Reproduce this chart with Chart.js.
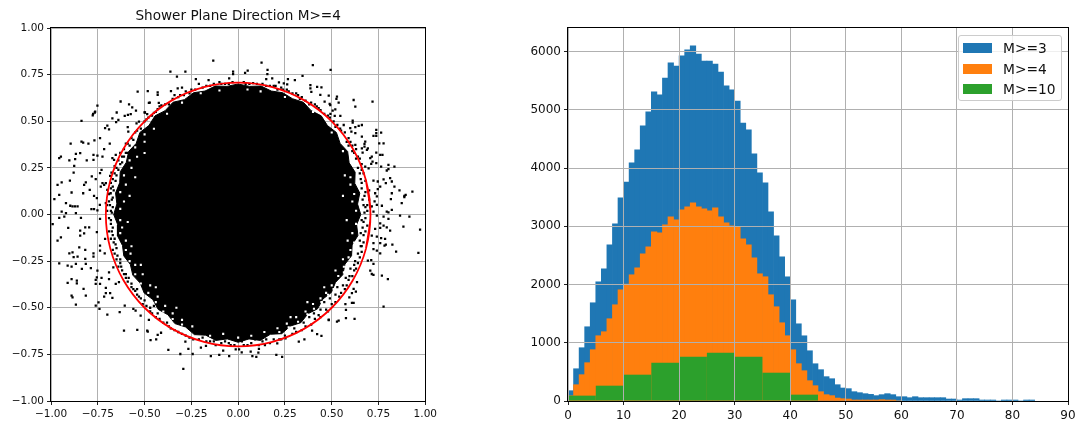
<!DOCTYPE html>
<html>
<head>
<meta charset="utf-8">
<script src="https://cdn.jsdelivr.net/npm/chart.js@4"></script>
<style>
  body { margin: 0; background: #fff; width: 1081px; height: 424px; overflow: hidden; position: relative; font-family: "DejaVu Sans", sans-serif; }
  canvas { position: absolute; top: 0; }
  #left { left: 0; }
  #right { left: 520px; }
  #legend { position: absolute; left: 958px; top: 35px; width: 102px; height: 64px; background: rgba(255,255,255,0.8); border: 1px solid #ccc; border-radius: 3px; }
  #legend i { position: absolute; left: 4px; width: 29px; height: 10px; }
  #legend span { position: absolute; left: 44px; font-size: 13.8px; line-height: 16px; color: #111; white-space: nowrap; }
</style>
</head>
<body>
<canvas id="left" width="440" height="424"></canvas>
<canvas id="right" width="561" height="424"></canvas>
<div id="legend"></div>
<script>
// left panel
const circleX = [.683,.707,.683,.612,.5,.354,.183,0,-.183,-.354,-.5,-.612,-.683,-.707,-.683,-.612,-.5,-.354,-.183,0,.183,.354,.5,.612,.683,.707,.683];
const circleY = [-.183,0,.183,.354,.5,.612,.683,.707,.683,.612,.5,.354,.183,0,-.183,-.354,-.5,-.612,-.683,-.707,-.683,-.612,-.5,-.354,-.183,0,.183];

// outline of the solid black core
const coreOutline = [
  [.655,0],[.638,.056],[.65,.115],[.623,.167],[.625,.227],[.593,.277],[.585,.338],[.545,.381],[.525,.44],[.477,.477],
  [.444,.529],[.39,.557],[.348,.602],[.29,.621],[.238,.653],[.177,.662],[.122,.689],[.06,.687],[0,.70],[-.06,.687],
  [-.122,.689],[-.177,.662],[-.238,.653],[-.287,.616],[-.348,.602],[-.39,.557],[-.444,.529],[-.477,.477],[-.525,.44],[-.545,.381],
  [-.585,.338],[-.598,.279],[-.63,.229],[-.633,.17],[-.655,.115],[-.648,.057],[-.665,0],[-.643,-.056],[-.645,-.114],[-.618,-.166],
  [-.611,-.222],[-.576,-.268],[-.563,-.325],[-.524,-.367],[-.502,-.421],[-.456,-.456],[-.427,-.509],[-.376,-.537],[-.338,-.585],[-.281,-.603],
  [-.234,-.644],[-.173,-.647],[-.119,-.675],[-.058,-.667],[0,-.685],[.058,-.667],[.119,-.675],[.172,-.642],[.233,-.639],[.279,-.598],
  [.335,-.58],[.373,-.532],[.424,-.506],[.453,-.453],[.498,-.418],[.52,-.364],[.559,-.323],[.571,-.266],[.606,-.221],[.609,-.163],
  [.64,-.113],[.633,-.055],[.655,0]
];

// white specks inside the edge of the core
const coreHoles = [
  [.63,-.05],[.61,-.10],[.62,-.15],[.60,-.19],[.59,-.23],[.595,-.26],[.565,-.28],[.565,-.31],[.535,-.33],[.54,-.36],[.50,-.38],[.51,-.40],[.47,-.42],[.48,-.43],[.44,-.45],[.445,-.47],[.40,-.48],[.405,-.505],[.36,-.52],[.37,-.535],[.31,-.55],[.32,-.575],[.26,-.585],[.27,-.605],[.21,-.61],[.22,-.63],[.63,.02],[.61,.07],[.62,.11],[.60,.16],[.60,.20],
  [.58,-.03],[.585,-.14],[.56,-.24],[.52,-.30],[.46,-.39],[.37,-.47],[.28,-.55],[.56,.10],[.57,.21],
  [-.63,-.03],[-.62,-.07],[-.63,-.10],[-.60,-.14],[-.60,-.19],[-.575,-.21],[-.58,-.25],[-.55,-.27],[-.55,-.32],[-.51,-.32],[-.52,-.37],[-.47,-.38],[-.48,-.42],[-.43,-.44],[-.44,-.47],[-.39,-.49],[-.40,-.52],[-.35,-.53],[-.35,-.56],[-.30,-.565],[-.30,-.59],[-.245,-.60],[-.63,.03],[-.61,.07],[-.63,.12],[-.60,.16],[-.61,.21],[-.57,.25],[-.58,.29],[-.54,.31],[-.55,.36],[-.50,.39],[-.50,.43],[-.45,.46],
  [-.59,-.04],[-.57,-.17],[-.52,-.27],[-.44,-.39],[-.33,-.50],[-.58,.10],[-.55,.20],[-.50,.33],
  [-.15,-.65],[-.08,-.64],[0,-.66],[.07,-.65],[.14,-.63],[-.20,.65],[-.10,.665],[.05,.67],[.12,.66],[.25,.63],[.40,.55],[.50,.44],[.56,.34],[-.30,.60],[-.38,.54]
];

// speckle around the edge of the core
const fringePoints = [
  [.66,.17],[.68,.12],[.67,.05],[.69,.02],[.70,.08],[.66,.24],[.65,.30],[.62,.33],[.58,.39],[.55,.45],[.52,.47],[.49,.52],[.44,.56],[.42,.58],[.38,.59],[.36,.61],[.33,.62],[.31,.65],[.27,.66],[.24,.67],[.21,.67],[.19,.69],[.15,.69],[.10,.70],[.06,.70],[.03,.71],
  [-.03,.71],[-.07,.70],[-.10,.71],[-.15,.69],[-.19,.68],[-.21,.70],[-.26,.65],[-.29,.64],[-.32,.63],[-.34,.64],[-.37,.59],[-.42,.58],[-.44,.55],[-.46,.53],[-.49,.51],[-.52,.46],[-.54,.45],[-.56,.40],[-.58,.37],[-.60,.38],[-.59,.33],[-.62,.31],[-.63,.27],[-.65,.25],[-.67,.19],[-.68,.14],[-.69,.07],[-.67,.04],[-.70,.02],
  [-.68,-.03],[-.69,-.09],[-.66,-.13],[-.67,-.19],[-.65,-.24],[-.62,-.30],[-.60,-.34],[-.57,-.39],[-.54,-.43],[-.51,-.48],[-.47,-.52],[-.44,-.55],[-.40,-.58],[-.36,-.61],[-.32,-.63],[-.28,-.65],[-.24,-.67],[-.19,-.66],[-.15,-.68],[-.12,-.70],[-.07,-.68],[-.04,-.70],
  [.02,-.68],[.05,-.70],[.09,-.67],[.11,-.70],[.15,-.67],[.17,-.69],[.23,-.67],[.29,-.64],[.34,-.62],[.39,-.59],[.44,-.55],[.48,-.52],[.52,-.47],[.55,-.42],[.58,-.38],[.61,-.33],[.63,-.29],[.65,-.23],[.66,-.17],[.67,-.11],[.66,-.03],[.69,-.06],
  [.70,.13],[.68,.18],[.69,.05],[.705,.04],[.67,.22],[.64,.31],[.66,.27],[.61,.37],[.63,.35],[.59,.41],[.57,.44],[.60,.39],[.545,.46],[.53,.48],[.51,.50],[.48,.53],[.46,.54],[.43,.57],[.41,.59],[.39,.60],[.34,.63],[.32,.64],[.29,.65],[.26,.67],[.23,.68],[.20,.69],[.17,.69],[.13,.70],[.08,.705],[.04,.70],
  [-.05,.70],[-.09,.70],[-.13,.70],[-.17,.69],[-.23,.67],[-.25,.67],[-.28,.66],[-.31,.64],[-.35,.62],[-.39,.59],[-.41,.585],[-.43,.565],[-.45,.545],[-.48,.52],[-.50,.50],[-.55,.44],[-.57,.41],[-.59,.38],[-.61,.35],[-.63,.33],[-.64,.29],[-.66,.26],[-.66,.22],[-.68,.17],[-.69,.11],[-.67,.09],[-.70,.05],[-.68,.02],
  [-.69,-.02],[-.67,-.11],[-.68,-.13],[-.65,-.18],[-.66,-.21],[-.63,-.26],[-.64,-.28],[-.61,-.32],[-.59,-.36],[-.56,-.40],[-.55,-.41],[-.52,-.45],[-.49,-.49],[-.46,-.53],[-.42,-.56],[-.38,-.58],[-.37,-.60],[-.34,-.62],[-.30,-.64],[-.26,-.66],[-.21,-.67],[-.17,-.68],[-.13,-.68],[-.09,-.69],[-.05,-.69],[-.02,-.70],
  [.03,-.70],[.07,-.69],[.13,-.68],[.19,-.67],[.22,-.67],[.25,-.65],[.31,-.63],[.36,-.60],[.41,-.56],[.43,-.54],[.47,-.51],[.50,-.48],[.54,-.44],[.57,-.40],[.59,-.35],[.62,-.30],[.64,-.26],[.66,-.20],[.67,-.15],[.68,-.09],[.68,-.02]
];
const fringeSides = [
  [-.675,.01],[-.68,-.05],[-.67,-.07],[-.685,.05],[-.675,.08],[-.665,.13],[-.67,.15],[-.655,.18],[-.65,.21],[-.64,.24],[-.62,.28],[-.61,.31],[-.60,.33],[-.675,-.09],[-.665,-.15],[-.655,-.16],[-.645,-.22],[-.63,-.24],[-.625,-.28],[-.60,-.32],[-.585,-.34],[-.57,-.37],[-.54,-.40],[-.53,-.44],[-.50,-.46],[-.47,-.50],[-.45,-.49],[-.43,-.53],
  [.675,.01],[.68,.04],[.665,.08],[.675,.10],[.66,.14],[.655,.19],[.65,.22],[.64,.25],[.63,.30],[.61,.34],[.59,.37],[.67,-.04],[.665,-.07],[.655,-.10],[.65,-.14],[.655,-.17],[.64,-.21],[.625,-.25],[.62,-.27],[.60,-.29],[.595,-.33],[.575,-.34],[.56,-.38],[.53,-.39],[.52,-.43],[.49,-.45],[.46,-.47],[.44,-.51],[.405,-.53],[.38,-.55],[.35,-.58],[.30,-.61]
];

// stray points outside the core
const strayUpperLeft = [
  [-.537,.659],[-.472,.60],[-.628,.606],[-.583,.591],[-.566,.575],[-.546,.557],[-.752,.584],[-.766,.547],[-.775,.539],[-.764,.552],[-.777,.532],[-.574,.538],[-.649,.547],[-.606,.529],[-.589,.534],[-.672,.516],[-.498,.547],[-.486,.538],[-.837,.502],[-.64,.507],[-.652,.495],[-.53,.498],[-.543,.489],[-.699,.477],[-.711,.463],[-.69,.457],[-.59,.468],[-.587,.445],[-.738,.409],[-.768,.397],[-.80,.38],[-.837,.391],[-.828,.386],[-.895,.38],[-.686,.38],[-.716,.35],[-.867,.325],[-.844,.329],[-.773,.32],[-.752,.316],[-.725,.311],[-.947,.311],[-.956,.302],[-.902,.29],[-.871,.297],[-.809,.29],[-.773,.293],[-.672,.302],[-.654,.32],[-.663,.293],[-.876,.261],[-.73,.239],[-.738,.222],[-.879,.225],[-.782,.204],[-.761,.19],[-.684,.207],[-.677,.225],[-.899,.182],[-.943,.172],[-.965,.159],[-.814,.172],[-.823,.159],[-.725,.168],[-.707,.168],[-.734,.15],[-.716,.159],[-.793,.132],[-.828,.114],[-.89,.118],[-.956,.105],[-.92,.061],[-.982,.082],[-.77,.10],[-.755,.088],[-.699,.132],[-.897,.047],[-.885,.043],[-.872,.043],[-.858,.043],[-.943,.016],[-.92,.007],[-.867,.007],[-.784,.029],[-.77,.029],[-.752,.022],[-.739,.052],[-.707,.061],[-.681,.114]
];
const strayLowerLeft = [
  [-.929,-.011],[-.84,-.018],[-.991,-.051],[-.956,-.018],[-.817,-.069],[-.796,-.069],[-.844,-.086],[-.823,-.101],[-.908,-.072],[-.755,-.095],[-.738,-.024],[-.947,-.122],[-.965,-.14],[-.844,-.113],[-.711,-.131],[-.738,-.167],[-.849,-.176],[-.885,-.203],[-.902,-.208],[-.817,-.19],[-.773,-.208],[-.858,-.226],[-.879,-.229],[-.817,-.238],[-.773,-.226],[-.738,-.194],[-.713,-.208],[-.956,-.262],[-.911,-.274],[-.89,-.279],[-.867,-.265],[-.814,-.265],[-.835,-.292],[-.787,-.287],[-.667,-.283],[-.69,-.31],[-.752,-.301],[-.755,-.337],[-.73,-.34],[-.89,-.346],[-.862,-.354],[-.862,-.369],[-.911,-.367],[-.761,-.351],[-.761,-.372],[-.738,-.372],[-.826,-.399],[-.69,-.346],[-.707,-.394],[-.654,-.372],[-.637,-.363],[-.707,-.422],[-.684,-.422],[-.716,-.44],[-.672,-.447],[-.89,-.435],[-.885,-.444],[-.814,-.435],[-.746,-.471],[-.867,-.483],[-.761,-.489],[-.741,-.506],[-.606,-.489],[-.56,-.506],[-.548,-.515],[-.699,-.537],[-.633,-.524],[-.521,-.542],[-.477,-.565],[-.61,-.623],[-.539,-.619],[-.486,-.623]
];
const strayUpperRight = [
  [.525,.62],[.537,.6],[.489,.593],[.617,.614],[.626,.579],[.718,.605],[.505,.557],[.493,.539],[.516,.529],[.546,.529],[.612,.504],[.612,.493],[.564,.48],[.644,.475],[.661,.48],[.626,.468],[.599,.463],[.605,.445],[.626,.436],[.738,.454],[.764,.439],[.738,.436],[.738,.422],[.723,.422],[.661,.418],[.679,.391],[.675,.379],[.754,.382],[.777,.382],[.675,.364],[.693,.355],[.688,.347],[.626,.373],[.661,.355],[.665,.332],[.738,.332],[.759,.32],[.771,.32],[.714,.311],[.706,.302],[.718,.284],[.711,.272],[.738,.275],[.679,.257],[.697,.248],[.764,.257],[.803,.266],[.835,.257],[.794,.236],[.803,.243],[.723,.182],[.746,.177],[.777,.189],[.812,.195],[.789,.168],[.821,.177],[.835,.15],[.746,.136],[.759,.15],[.862,.129],[.821,.114],[.816,.082],[.888,.1],[.895,.105],[.931,.123],[.888,.093],[.874,.061],[.768,.047],[.821,.025],[.794,.016],[.803,.011],[.732,.114],[.741,.097],[.729,.07],[.741,.052],[.723,.016],[.714,.043]
];
const strayLowerRight = [
  [.741,-.006],[.777,-.011],[.803,-.024],[.865,-.006],[.915,-.011],[.759,-.047],[.777,-.06],[.794,-.069],[.812,-.086],[.883,-.065],[.972,-.081],[.732,-.077],[.759,-.072],[.714,-.113],[.741,-.119],[.764,-.126],[.785,-.131],[.723,-.154],[.759,-.154],[.782,-.167],[.789,-.161],[.824,-.161],[.723,-.185],[.741,-.194],[.759,-.208],[.844,-.199],[.963,-.206],[.711,-.244],[.693,-.247],[.723,-.265],[.706,-.301],[.714,-.319],[.723,-.324],[.768,-.328],[.80,-.346],[.635,-.363],[.617,-.399],[.608,-.422],[.629,-.414],[.594,-.444],[.573,-.48],[.608,-.474],[.617,-.474],[.777,-.494],[.576,-.512],[.576,-.555],[.537,-.569],[.622,-.56],[.484,-.564]
];
const strayTop = [
  [-.133,.825],[.125,.814],[.399,.801],[.494,.775],[-.362,.766],[-.282,.766],[-.027,.766],[-.027,.753],[.037,.76],[.051,.771],[.157,.775],[.156,.753],[-.327,.739],[-.226,.726],[-.048,.73],[.15,.726],[.182,.73],[.266,.726],[.303,.721],[.344,.744],[-.158,.721],[-.483,.662],[-.43,.655],[-.43,.641],[-.477,.599],[-.424,.599],[-.359,.662],[-.30,.68],[-.323,.676],[.386,.694],[.386,.676],[.422,.685],[.445,.682],[.391,.658],[.439,.641],[.484,.637],[.528,.632],[.462,.605],[.492,.587],[.519,.564],[-.50,.548],[.218,.708],[.244,.703],[.262,.698]
];
const strayBottom = [
  [-.293,-.828],[-.373,-.726],[-.309,-.748],[-.266,-.721],[-.243,-.748],[-.146,-.759],[-.101,-.753],[-.048,-.759],[-.08,-.73],[-.013,-.723],[.005,-.723],[.019,-.739],[.067,-.735],[.076,-.759],[.097,-.764],[.108,-.741],[.111,-.721],[.204,-.753],[.235,-.764],[-.199,-.714],[-.172,-.705],[-.282,-.682],[-.468,-.673],[-.438,-.669],[-.483,-.628],[-.43,-.646],[-.412,-.634],[.324,-.682],[.354,-.669],[.395,-.623],[.422,-.642],[.445,-.651],[.484,-.566],[.528,-.575],[.209,-.691],[.253,-.664],[.143,-.70]
];

// right panel, counts per bin
const binsM3 = [177,554,915,1275,1687,2047,2270,2682,3042,3489,3760,4090,4313,4725,4965,5308,5257,5548,5806,5754,5926,6029,6098,5960,5840,5840,5788,5651,5411,5342,5153,4775,4655,4244,3918,3746,3249,2837,2476,2133,1738,1326,1120,863,640,538,418,383,280,223,212,160,143,126,114,92,109,126,109,74,74,57,74,57,57,57,57,57,34,34,17,40,40,40,17,17,17,0,17,17,17,0,17,17];
const binsM4 = [90,280,452,658,881,1121,1190,1413,1653,1910,2008,2168,2288,2528,2648,2906,2889,3026,3163,3112,3283,3334,3403,3334,3300,3266,3317,3163,3060,3009,2992,2786,2683,2460,2185,2134,1825,1619,1344,1121,881,641,520,349,263,160,109,92,51,40,34,17,17,17,17,17,23,17,17,0];
const binsM10 = [92,263,452,658,761,829,761,486,109];
const centersM10 = [2.5,7.5,12.5,17.5,22.5,27.5,32.5,37.5,42.5];
const countTicks = [0,1000,2000,3000,4000,5000,6000];
const labels = ["M>=3", "M>=4", "M>=10"];
const colors = ["#1f77b4", "#ff7f0e", "#2ca02c"];

const frame = {
  id: "frame",
  afterDraw(chart) {
    const a = chart.chartArea, c = chart.ctx;
    c.save();
    c.strokeStyle = "#000";
    c.lineWidth = 1;
    c.strokeRect(Math.round(a.left) - .5, Math.round(a.top) - .5, Math.round(a.width) + 1, Math.round(a.height) + 1);
    c.restore();
  }
};

const minus = (s) => String(s).replace("-", "\u2212");
const toXY = (p) => ({ x: p[0], y: p[1] });

const leftAxis = (size) => ({
  type: "linear", min: -1, max: 1,
  afterFit: (s) => { if (s.isHorizontal()) s.height = size; else s.width = size; },
  grid: { color: "#b0b0b0", lineWidth: 1, tickColor: "#222", tickLength: 4 },
  border: { display: false },
  ticks: {
    stepSize: .25, maxRotation: 0, autoSkip: false, padding: 3, color: "#111",
    font: { family: "DejaVu Sans", size: 10.5 },
    callback: (v) => minus(Number(v).toFixed(2))
  }
});

new Chart("left", {
  type: "scatter",
  data: {
    datasets: [
      { data: circleX.map((x, i) => ({ x, y: circleY[i] })), showLine: true, borderColor: "#f00", borderWidth: 1.8, tension: .34, pointRadius: 0, fill: false, order: 0 },
      { data: [...fringePoints, ...fringeSides, ...strayUpperLeft, ...strayLowerLeft, ...strayUpperRight, ...strayLowerRight, ...strayTop, ...strayBottom].map(toXY), pointStyle: "rect", pointRadius: 1.6, pointBorderWidth: 0, pointBackgroundColor: "#000", order: 1 },
      { data: coreHoles.map(toXY), pointStyle: "rect", pointRadius: 1.5, pointBorderWidth: 0, pointBackgroundColor: "#fff", order: 2 },
      { data: coreOutline.map(toXY), showLine: true, borderColor: "#000", backgroundColor: "#000", borderWidth: 1, tension: 0, pointRadius: 0, fill: "shape", order: 3 }
    ]
  },
  options: {
    responsive: false, animation: false, events: [],
    layout: { padding: { right: 13 } },
    plugins: {
      legend: { display: false }, tooltip: { enabled: false },
      title: { display: true, text: "Shower Plane Direction M>=4", fullSize: false, color: "#111", font: { family: "DejaVu Sans", size: 13.6, weight: "normal" }, padding: { top: 8.6, bottom: 3.1 } }
    },
    scales: { x: leftAxis(23), y: leftAxis(51) }
  },
  plugins: [frame]
});

const rightChart = new Chart("right", {
  type: "bar",
  data: {
    datasets: [
      { label: labels[0], data: binsM3.map((y, i) => ({ x: i + .5, y })), backgroundColor: colors[0], order: 3 },
      { label: labels[1], data: binsM4.map((y, i) => ({ x: i + .5, y })), backgroundColor: colors[1], order: 2 },
      { label: labels[2], data: binsM10.map((y, i) => ({ x: centersM10[i], y })), backgroundColor: colors[2], barPercentage: 5, order: 1 }
    ]
  },
  options: {
    responsive: false, animation: false, events: [],
    layout: { padding: { top: 28, right: 13 } },
    datasets: { bar: { grouped: false, barPercentage: 1, categoryPercentage: 1, borderWidth: 0 } },
    plugins: { legend: { display: false }, tooltip: { enabled: false } },
    scales: {
      x: {
        type: "linear", min: 0, max: 90, offset: false,
        afterFit: (s) => { s.height = 23; },
        grid: { z: 1, offset: false, color: "#b0b0b0", lineWidth: 1, tickColor: "#222", tickLength: 4 },
        border: { display: false },
        ticks: { stepSize: 10, maxRotation: 0, autoSkip: false, padding: 4, color: "#111", font: { family: "DejaVu Sans", size: 12 } }
      },
      y: {
        type: "linear", min: 0, max: 6406,
        afterFit: (s) => { s.width = 48; },
        afterBuildTicks: (s) => { s.ticks = countTicks.map((value) => ({ value })); },
        grid: { z: 1, color: "#b0b0b0", lineWidth: 1, tickColor: "#222", tickLength: 4 },
        border: { display: false },
        ticks: { padding: 3, color: "#111", font: { family: "DejaVu Sans", size: 12 }, callback: (v) => String(v) }
      }
    }
  },
  plugins: [frame]
});

// legend box, built from the chart's datasets
const legendBox = document.getElementById("legend");
rightChart.data.datasets.forEach((ds, i) => {
  const top = 7 + i * 20.5;
  legendBox.innerHTML += `<i style="top:${top}px;background:${ds.backgroundColor}"></i><span style="top:${top - 3}px">${ds.label.replace(">", "&gt;")}</span>`;
});
</script>
</body>
</html>
